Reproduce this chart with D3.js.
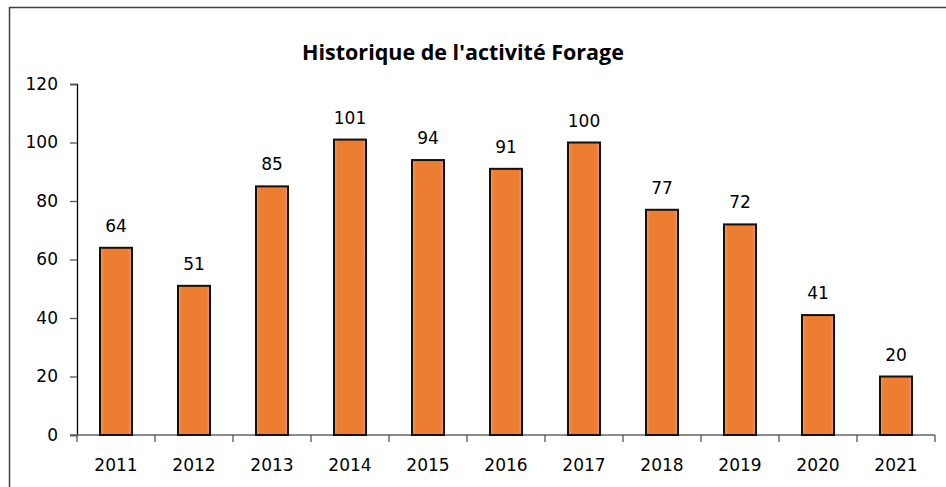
<!DOCTYPE html>
<html>
<head>
<meta charset="utf-8">
<script src="https://cdn.jsdelivr.net/npm/d3@7"></script>
<style>
html,body{margin:0;padding:0;background:#fff;}
svg{display:block;}
</style>
</head>
<body>
<svg id="chart" width="946" height="487"></svg>
<script>
const title = "Historique de l'activité Forage";
const years = ["2011","2012","2013","2014","2015","2016","2017","2018","2019","2020","2021"];
const values = [64,51,85,101,94,91,100,77,72,41,20];
const yTicks = [0,20,40,60,80,100,120];

const svg = d3.select("#chart");
const font = "'DejaVu Sans', sans-serif";

// frame
svg.append("path")
  .attr("d","M9.5,490 L9.5,7.5 L950,7.5")
  .attr("fill","none").attr("stroke","#404040").attr("stroke-width",1.5);

const defs = svg.append("defs");
const grad = defs.append("linearGradient").attr("id","barGrad").attr("x1","0").attr("x2","1").attr("y1","0").attr("y2","0");
grad.append("stop").attr("offset","0%").attr("stop-color","#f5a060");
grad.append("stop").attr("offset","12%").attr("stop-color","#ed7d31");
grad.append("stop").attr("offset","88%").attr("stop-color","#ed7d31");
grad.append("stop").attr("offset","100%").attr("stop-color","#f5a060");

const x = d3.scaleBand().domain(years).range([77,935]).paddingInner(0.59).paddingOuter(0.295);
const xb = d3.scaleBand().domain(years).range([77,935]);
const y = d3.scaleLinear().domain([0,120]).range([435,84]);

// title
svg.append("text").attr("x",463).attr("y",60).attr("text-anchor","middle")
  .attr("font-family","'Open Sans', sans-serif").attr("font-weight","bold").attr("font-size",21.5)
  .attr("fill","#000").text(title);

// y axis
const yAxis = svg.append("g").attr("transform","translate(77,0)")
  .call(d3.axisLeft(y).tickValues(yTicks).tickSize(7).tickPadding(12));
yAxis.select(".domain").attr("stroke","#000").attr("stroke-width",1.3);
yAxis.selectAll(".tick line").attr("stroke","#555").attr("stroke-width",1.3);
yAxis.selectAll("text").attr("font-family",font).attr("font-size",17).attr("fill","#000");

// x axis
const xg = svg.append("g").attr("transform","translate(0,435)");
xg.append("line").attr("x1",70).attr("x2",935).attr("y1",0).attr("y2",0).attr("stroke","#666").attr("stroke-width",1.3);
const bounds = years.map(d=>xb(d)).concat([935]);
xg.selectAll("line.tk").data(bounds).enter().append("line").attr("class","tk")
  .attr("x1",d=>d).attr("x2",d=>d).attr("y1",0).attr("y2",7)
  .attr("stroke","#555").attr("stroke-width",1.3);
xg.selectAll("text").data(years).enter().append("text")
  .attr("x",d=>xb(d)+xb.bandwidth()/2).attr("y",36).attr("text-anchor","middle")
  .attr("font-family",font).attr("font-size",17).attr("fill","#000").text(d=>d);

// bars
svg.selectAll("rect.bar").data(values).enter().append("rect").attr("class","bar")
  .attr("x",(d,i)=>x(years[i])).attr("width",x.bandwidth())
  .attr("y",d=>y(d)).attr("height",d=>y(0)-y(d))
  .attr("fill","url(#barGrad)").attr("stroke","#111").attr("stroke-width",2);

// labels
svg.selectAll("text.lbl").data(values).enter().append("text").attr("class","lbl")
  .attr("x",(d,i)=>x(years[i])+x.bandwidth()/2).attr("y",d=>y(d)-16)
  .attr("text-anchor","middle").attr("font-family",font).attr("font-size",17).attr("fill","#000")
  .text(d=>d);
</script>
</body>
</html>
